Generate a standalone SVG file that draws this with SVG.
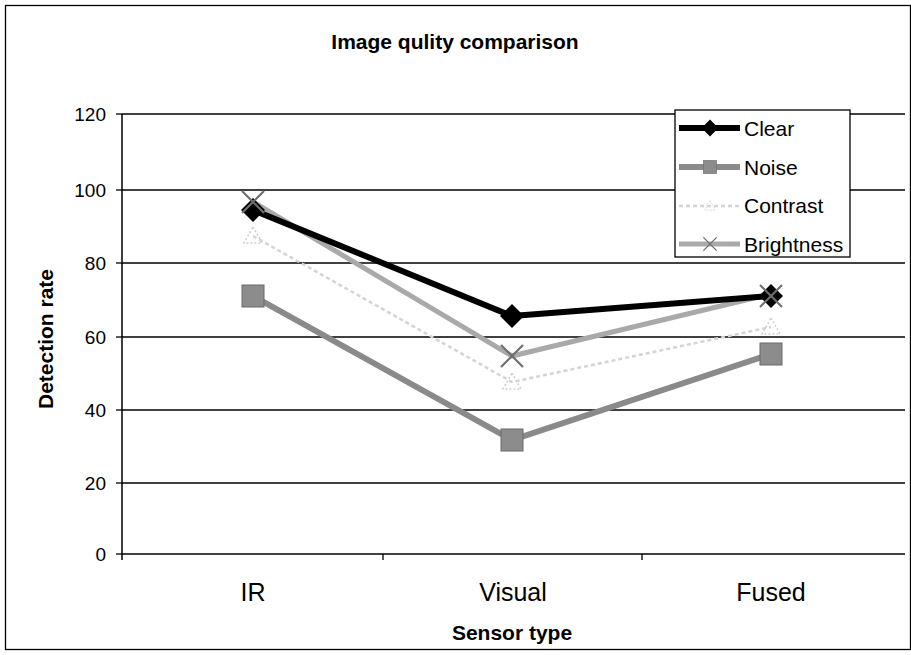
<svg xmlns="http://www.w3.org/2000/svg" width="911" height="655" viewBox="0 0 911 655">
<style>
text{font-family:"Liberation Sans",Arial,sans-serif;fill:#000}
.grid{stroke:#000;stroke-width:1.3}
.tick{font-size:19px;text-anchor:end}
.cat{font-size:25px;text-anchor:middle}
.ttl{font-size:21px;font-weight:bold;text-anchor:middle}
.leg{font-size:21px}
.clear{stroke:#000;stroke-width:6;fill:none;stroke-linejoin:round}
.noise{stroke:#8a8a8a;stroke-width:6;fill:none}
.contrast{stroke:#d4d4d4;stroke-width:2.5;fill:none;stroke-dasharray:4 3}
.bright{stroke:#a9a9a9;stroke-width:5;fill:none}
</style>
<defs>
<path id="dia" d="M0,-12 L12,0 L0,12 L-12,0Z" fill="#000"/>
<rect id="sq" x="-11" y="-11" width="22" height="22" fill="#8c8c8c" stroke="#6a6a6a" stroke-width="1"/>
<path id="tri" d="M0,-9 L9,7 L-9,7Z" fill="none" stroke="#cfcfcf" stroke-width="1.5" stroke-dasharray="2 2"/>
<path id="ex" d="M-11,-11 L11,11 M11,-11 L-11,11" stroke="#6f6f6f" stroke-width="2.2"/>
</defs>
<rect x="5.5" y="5.5" width="905" height="644" fill="#fff" stroke="#000" stroke-width="1.3"/>
<text class="ttl" x="455" y="49">Image qulity comparison</text>
<g id="axes">
<line class="grid" x1="122" y1="114" x2="905" y2="114"/>
<line class="grid" x1="122" y1="190" x2="905" y2="190"/>
<line class="grid" x1="122" y1="263" x2="905" y2="263"/>
<line class="grid" x1="122" y1="337" x2="905" y2="337"/>
<line class="grid" x1="122" y1="410" x2="905" y2="410"/>
<line class="grid" x1="122" y1="483" x2="905" y2="483"/>
<line x1="122" y1="554" x2="905" y2="554" stroke="#000" stroke-width="1.5"/>
<line x1="122" y1="114" x2="122" y2="560" stroke="#000" stroke-width="1.5"/>
<g stroke="#000" stroke-width="1.3">
<line x1="116" y1="114" x2="122" y2="114"/><line x1="116" y1="190" x2="122" y2="190"/>
<line x1="116" y1="263" x2="122" y2="263"/><line x1="116" y1="337" x2="122" y2="337"/>
<line x1="116" y1="410" x2="122" y2="410"/><line x1="116" y1="483" x2="122" y2="483"/>
<line x1="116" y1="554" x2="122" y2="554"/>
<line x1="383" y1="554" x2="383" y2="560"/><line x1="642" y1="554" x2="642" y2="560"/>
</g>
<text class="tick" x="106" y="121">120</text>
<text class="tick" x="106" y="197">100</text>
<text class="tick" x="106" y="270">80</text>
<text class="tick" x="106" y="344">60</text>
<text class="tick" x="106" y="417">40</text>
<text class="tick" x="106" y="490">20</text>
<text class="tick" x="106" y="561">0</text>
<text class="cat" x="253" y="601">IR</text>
<text class="cat" x="513" y="601">Visual</text>
<text class="cat" x="771" y="601">Fused</text>
<text class="ttl" x="512" y="640">Sensor type</text>
<text class="ttl" transform="translate(53,339) rotate(-90)">Detection rate</text>
</g>
<g id="connectors">
<polyline class="contrast" points="253,236 512,382 771,327"/>
<polyline class="bright" points="253,202 512,356 771,294"/>
<polyline class="noise" points="253,296 512,440 771,354"/>
<polyline class="clear" points="253,210 512,316 771,296"/>
</g>
<g id="series-contrast">
<use href="#tri" x="253" y="236"/><use href="#tri" x="512" y="382"/><use href="#tri" x="771" y="327"/>
</g>
<g id="series-noise">
<use href="#sq" x="253" y="296"/><use href="#sq" x="512" y="440"/><use href="#sq" x="771" y="354"/>
</g>
<g id="series-clear">
<use href="#dia" x="253" y="210"/><use href="#dia" x="512" y="316"/><use href="#dia" x="771" y="296"/>
</g>
<g id="series-brightness">
<use href="#ex" x="253" y="202"/><use href="#ex" x="512" y="356"/><use href="#ex" x="771" y="296"/>
</g>
<g id="legend">
<rect x="675" y="110" width="175" height="147" fill="#fff" stroke="#000" stroke-width="1.3"/>
<line class="clear" x1="679" y1="128" x2="740" y2="128"/><use href="#dia" transform="translate(710,128) scale(0.7)"/>
<text class="leg" x="744" y="136">Clear</text>
<line class="noise" x1="679" y1="167" x2="740" y2="167"/><use href="#sq" transform="translate(710,167) scale(0.6)"/>
<text class="leg" x="744" y="175">Noise</text>
<line class="contrast" x1="679" y1="206" x2="740" y2="206"/><use href="#tri" transform="translate(710,206) scale(0.6)"/>
<text class="leg" x="744" y="213">Contrast</text>
<line class="bright" x1="679" y1="244" x2="740" y2="244"/><use href="#ex" transform="translate(710,244) scale(0.6)"/>
<text class="leg" x="744" y="252">Brightness</text>
</g>
</svg>
